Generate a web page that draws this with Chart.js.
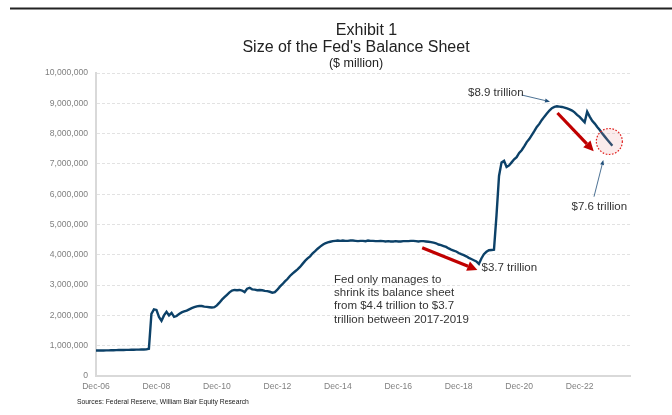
<!DOCTYPE html>
<html lang="en">
<head>
<meta charset="UTF-8">
<title>Size of the Fed's Balance Sheet</title>
<script src="https://cdn.jsdelivr.net/npm/chart.js"></script>
<style>
  html, body { margin: 0; padding: 0; background: #fff; }
  #wrap { width: 672px; height: 415px; position: relative; }
</style>
</head>
<body>
<div id="wrap"><canvas id="fedChart"></canvas></div>
<script>
// Fed total assets, $ million, one value per month starting Dec-06
const dec2006 = [840000];
const y2007 = [842000, 845000, 843000, 847000, 846000, 850000, 852000, 854000, 857000, 856000, 860000, 862000];
const y2008 = [862000, 865000, 868000, 870000, 872000, 873000, 875000, 878000, 900000, 2050000, 2200000, 2180000];
const y2009 = [1950000, 1820000, 2000000, 2120000, 2000000, 2080000, 1950000, 1980000, 2050000, 2100000, 2130000, 2160000];
const y2010 = [2200000, 2240000, 2270000, 2300000, 2310000, 2310000, 2290000, 2280000, 2270000, 2260000, 2270000, 2330000];
const y2011 = [2420000, 2520000, 2600000, 2680000, 2760000, 2820000, 2840000, 2830000, 2840000, 2820000, 2770000, 2880000];
const y2012 = [2910000, 2860000, 2850000, 2830000, 2840000, 2830000, 2810000, 2800000, 2780000, 2750000, 2770000, 2850000];
const y2013 = [2950000, 3030000, 3120000, 3200000, 3300000, 3380000, 3450000, 3520000, 3600000, 3700000, 3800000, 3880000];
const y2014 = [3950000, 4050000, 4120000, 4200000, 4270000, 4330000, 4380000, 4410000, 4430000, 4450000, 4460000, 4470000];
const y2015 = [4460000, 4470000, 4460000, 4460000, 4470000, 4470000, 4460000, 4450000, 4460000, 4460000, 4450000, 4470000];
const y2016 = [4460000, 4460000, 4450000, 4450000, 4460000, 4450000, 4440000, 4450000, 4440000, 4440000, 4450000, 4440000];
const y2017 = [4440000, 4450000, 4450000, 4450000, 4460000, 4460000, 4450000, 4440000, 4450000, 4450000, 4440000, 4430000];
const y2018 = [4420000, 4400000, 4380000, 4340000, 4320000, 4290000, 4260000, 4210000, 4170000, 4140000, 4110000, 4060000];
const y2019 = [4020000, 3990000, 3950000, 3900000, 3860000, 3820000, 3780000, 3700000, 3880000, 4020000, 4100000, 4150000];
const y2020 = [4160000, 4170000, 5300000, 6600000, 7050000, 7100000, 6900000, 6950000, 7050000, 7150000, 7220000, 7360000];
const y2021 = [7450000, 7580000, 7720000, 7820000, 7950000, 8080000, 8220000, 8320000, 8450000, 8560000, 8660000, 8760000];
const y2022 = [8840000, 8880000, 8900000, 8890000, 8880000, 8860000, 8830000, 8800000, 8760000, 8700000, 8620000, 8550000];
const y2023 = [8460000, 8370000, 8720000, 8560000, 8420000, 8330000, 8220000, 8120000, 8000000, 7900000, 7800000, 7700000];
const y2024 = [7600000];

// x ticks every 24 months
const tickLabels = ['Dec-06', 'Dec-08', 'Dec-10', 'Dec-12', 'Dec-14', 'Dec-16', 'Dec-18', 'Dec-20', 'Dec-22'];
const yMax = 10000000;
const yStep = 1000000;
const lastMonth = 212; // axis runs a bit past the data

const balance = [].concat(dec2006, y2007, y2008, y2009, y2010, y2011, y2012, y2013,
  y2014, y2015, y2016, y2017, y2018, y2019, y2020, y2021, y2022, y2023, y2024);

const FONT = '"Liberation Sans", Arial, sans-serif';

function arrow(ctx, x1, y1, x2, y2, color, width, headLen, headHalf) {
  const a = Math.atan2(y2 - y1, x2 - x1);
  const bx = x2 - headLen * Math.cos(a), by = y2 - headLen * Math.sin(a);
  ctx.save();
  ctx.strokeStyle = color;
  ctx.fillStyle = color;
  ctx.lineWidth = width;
  ctx.beginPath();
  ctx.moveTo(x1, y1);
  ctx.lineTo(bx, by);
  ctx.stroke();
  ctx.beginPath();
  ctx.moveTo(x2, y2);
  ctx.lineTo(bx + headHalf * Math.sin(a), by - headHalf * Math.cos(a));
  ctx.lineTo(bx - headHalf * Math.sin(a), by + headHalf * Math.cos(a));
  ctx.closePath();
  ctx.fill();
  ctx.restore();
}

// titles, notes, arrows
const notes = {
  id: 'notes',
  afterDatasetsDraw(chart) {
    const ctx = chart.ctx;
    const xs = chart.scales.x, ys = chart.scales.y;
    const px = m => xs.getPixelForValue(m);
    const py = v => ys.getPixelForValue(v);

    // red trend arrows
    arrow(ctx, px(129.5), py(4230000), px(151.4), py(3500000), '#C00000', 3.2, 10, 5);
    arrow(ctx, px(183.2), py(8680000), px(197.6), py(7420000), '#C00000', 3.2, 10, 5);

    // dotted ring round the latest reading
    ctx.save();
    ctx.beginPath();
    ctx.arc(px(203.8), py(7740000), 13, 0, Math.PI * 2);
    ctx.fillStyle = 'rgba(235, 150, 150, 0.18)';
    ctx.fill();
    ctx.setLineDash([1.6, 1.6]);
    ctx.lineWidth = 1.2;
    ctx.strokeStyle = '#E0201E';
    ctx.stroke();
    ctx.restore();

    // thin pointers
    arrow(ctx, 521.7, 95, 550, 101.7, '#1F4E79', 0.8, 5, 2);
    arrow(ctx, 594, 196.7, 603.3, 160, '#1F4E79', 0.8, 5, 2);

    ctx.save();
    ctx.fillStyle = '#333';
    ctx.font = '11.5px ' + FONT;
    ctx.textAlign = 'left';
    ctx.textBaseline = 'middle';
    ctx.fillText('$8.9 trillion', 468, 93.3);
    ctx.fillText('$7.6 trillion', 571.5, 207.3);
    ctx.fillText('$3.7 trillion', 481.5, 268.3);
    const para = ['Fed only manages to', 'shrink its balance sheet',
      'from $4.4 trillion to $3.7', 'trillion between 2017-2019'];
    para.forEach((t, i) => ctx.fillText(t, 334, 279.5 + i * 13.3));
    ctx.restore();
  },
  afterDraw(chart) {
    const ctx = chart.ctx;
    ctx.save();
    // rule across the top
    ctx.strokeStyle = '#222';
    ctx.lineWidth = 1.8;
    ctx.beginPath();
    ctx.moveTo(10, 8.5);
    ctx.lineTo(672, 8.5);
    ctx.stroke();

    ctx.fillStyle = '#222';
    ctx.textAlign = 'center';
    ctx.textBaseline = 'alphabetic';
    ctx.font = '16px ' + FONT;
    ctx.fillText('Exhibit 1', 366.5, 35);
    ctx.fillText("Size of the Fed's Balance Sheet", 356, 51.5);
    ctx.font = '12.5px ' + FONT;
    ctx.fillText('($ million)', 356, 67);

    ctx.textAlign = 'left';
    ctx.textBaseline = 'middle';
    ctx.font = '6.8px ' + FONT;
    ctx.fillText('Sources: Federal Reserve, William Blair Equity Research', 77, 401.7);
    ctx.restore();
  }
};

new Chart(document.getElementById('fedChart'), {
  type: 'line',
  data: {
    datasets: [{
      data: balance.map((v, i) => ({ x: i, y: v })),
      borderColor: '#0C4168',
      borderWidth: 2.4,
      pointRadius: 0,
      tension: 0
    }]
  },
  options: {
    responsive: true,
    maintainAspectRatio: false,
    animation: false,
    layout: { padding: { top: 73, right: 42, bottom: 0, left: 0 } },
    plugins: {
      legend: { display: false },
      tooltip: { enabled: false },
      title: { display: false }
    },
    scales: {
      x: {
        type: 'linear',
        min: 0,
        max: lastMonth,
        afterFit: s => { s.height = 39; },
        afterBuildTicks: s => { s.ticks = tickLabels.map((_, i) => ({ value: i * 24 })); },
        grid: { display: false, drawTicks: false },
        border: { display: true, color: '#d9d9d9', width: 2 },
        ticks: {
          autoSkip: false,
          maxRotation: 0,
          padding: 5,
          color: '#808080',
          font: { family: FONT, size: 8.6 },
          callback: v => tickLabels[v / 24]
        }
      },
      y: {
        min: 0,
        max: yMax,
        afterFit: s => { s.width = 96; },
        grid: { color: '#e2e2e2', lineWidth: 1, drawTicks: false },
        border: { display: true, color: '#d9d9d9', width: 2, dash: [3, 2] },
        ticks: {
          stepSize: yStep,
          padding: 8,
          color: '#808080',
          font: { family: FONT, size: 8.6 },
          callback: v => v.toLocaleString('en-US')
        }
      }
    }
  },
  plugins: [notes]
});
</script>
</body>
</html>
